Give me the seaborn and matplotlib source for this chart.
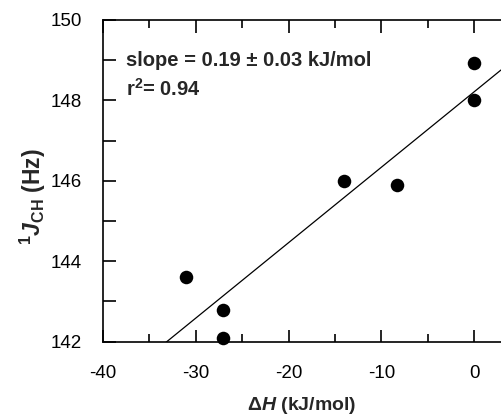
import numpy as np
import pandas as pd
import matplotlib
matplotlib.use('Agg')
import matplotlib.pyplot as plt
import seaborn as sns
from matplotlib.ticker import MultipleLocator

# enthalpy (kJ/mol) vs one-bond coupling constant (Hz)
delta_h = [0.0, 0.0, -14.0, -8.3, -31.1, -27.1, -27.1]
j_ch = [148.93, 148.0, 146.0, 145.9, 143.6, 142.8, 142.08]

df = pd.DataFrame({'dH': delta_h, 'J': j_ch})

sns.set_style('ticks')
plt.rcParams['font.family'] = ['Liberation Sans', 'DejaVu Sans']
plt.rcParams['axes.unicode_minus'] = False
plt.rcParams['mathtext.fontset'] = 'custom'
plt.rcParams['mathtext.rm'] = 'Liberation Sans:bold'
plt.rcParams['mathtext.it'] = 'Liberation Sans:italic:bold'
plt.rcParams['mathtext.bf'] = 'Liberation Sans:bold'

fig = plt.figure(figsize=(5.01, 4.16), dpi=100)
ax = fig.add_axes([0.2056, 0.1786, 0.7944, 0.7734])
ax.set_xlim(-40, 2.9)
ax.set_ylim(142, 150)

sns.regplot(data=df, x='dH', y='J', ax=ax, ci=None, truncate=False,
            scatter_kws={'s': 95, 'color': 'black', 'alpha': 1, 'clip_on': False,
                         'zorder': 3, 'linewidths': 0},
            line_kws={'color': 'black', 'lw': 0.9})

ax.set_xlim(-40, 2.9)
ax.set_ylim(142, 150)

ax.xaxis.set_major_locator(MultipleLocator(10))
ax.xaxis.set_minor_locator(MultipleLocator(5))
ax.yaxis.set_major_locator(MultipleLocator(2))
ax.yaxis.set_minor_locator(MultipleLocator(1))

ax.tick_params(axis='both', which='both', direction='in', width=1.2, colors='black')
ax.tick_params(axis='x', which='major', length=9, top=True, pad=17, labelsize=13.5)
ax.tick_params(axis='x', which='minor', length=5.5, top=True)
ax.tick_params(axis='y', which='both', length=9, pad=15, labelsize=13.5)

for s in ['left', 'bottom', 'top']:
    ax.spines[s].set_linewidth(1.2)
    ax.spines[s].set_color('black')
ax.spines['right'].set_visible(False)

ax.set_xlabel(r'$\Delta H$ (kJ/mol)', fontsize=14, fontweight='bold')
ax.xaxis.set_label_coords(0.5, -0.165)
ax.set_ylabel(r'$^{1}J_{\mathrm{CH}}$ (Hz)', fontsize=16.5, fontweight='bold')
ax.yaxis.set_label_coords(-0.138, 0.45)

ax.text(0.058, 0.875, 'slope = 0.19 \u00b1 0.03 kJ/mol', transform=ax.transAxes,
        fontsize=14.5, fontweight='bold', va='center')
ax.text(0.058, 0.785, r'r$^{2}$= 0.94', transform=ax.transAxes,
        fontsize=14.5, fontweight='bold', va='center')

fig.savefig('out.png', dpi=100)
